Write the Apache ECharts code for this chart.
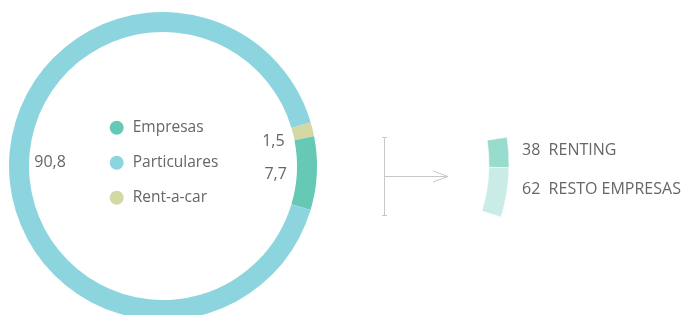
<!DOCTYPE html>
<html>
<head>
<meta charset="utf-8">
<script src="https://cdn.jsdelivr.net/npm/echarts@6/dist/echarts.min.js"></script>
<style>
  html, body { margin: 0; padding: 0; background: #fff; }
  #chart { width: 681px; height: 315px; }
</style>
</head>
<body>
<div id="chart"></div>
<script>
// main ring (drawing order, clockwise from the top of the green part)
const ringNames = ['Rent-a-car', 'Empresas', 'Particulares']
const ringValues = [1.5, 7.7, 90.8]
const ringColors = ['#d4d9a4', '#66c9b6', '#8dd5de']
const legendOrder = ['Empresas', 'Particulares', 'Rent-a-car']

// breakdown of Empresas
const subNames = ['RENTING', 'RESTO EMPRESAS']
const subValues = [38, 62]
const subColors = ['#98dcce', '#c9ece6']

const textColor = '#666'
const fontFamily = '"Open Sans", "DejaVu Sans", sans-serif'

let chart = echarts.init(document.getElementById('chart'))

let ringData = ringNames.map((n, i) => ({ name: n, value: ringValues[i], itemStyle: { color: ringColors[i] } }))
let subData = subNames.map((n, i) => ({ name: n, value: subValues[i], itemStyle: { color: subColors[i] } }))

let option = {
    animation: false,
    legend: [
        {
            data: legendOrder,
            orient: 'vertical',
            left: 104.7,
            top: 114.7,
            icon: 'circle',
            itemWidth: 14,
            itemHeight: 14,
            itemGap: 19,
            selectedMode: false,
            textStyle: { color: textColor, fontSize: 15.5, fontFamily: fontFamily, lineHeight: 16, padding: [0, 0, 0, 4] }
        },
        {
            data: subNames,
            orient: 'vertical',
            left: 512,
            top: 137.7,
            icon: 'none',
            itemWidth: 0,
            itemHeight: 14,
            itemGap: 22.3,
            selectedMode: false,
            formatter: function (name) {
                return subValues[subNames.indexOf(name)] + '  ' + name
            },
            textStyle: { color: textColor, fontSize: 16, fontFamily: fontFamily, lineHeight: 16 }
        }
    ],
    series: [
        {
            type: 'pie',
            center: [163, 166],
            radius: [134, 154],
            startAngle: 16.5,
            clockwise: true,
            silent: true,
            label: { show: false },
            labelLine: { show: false },
            itemStyle: { borderWidth: 0 },
            data: ringData
        },
        {
            // invisible copy that only carries the value labels inside the hole
            type: 'pie',
            center: [163, 166],
            radius: [86, 134],
            startAngle: 15,
            clockwise: true,
            silent: true,
            avoidLabelOverlap: false,
            itemStyle: { color: 'rgba(0,0,0,0)', borderWidth: 0 },
            label: {
                show: true,
                position: 'inside',
                color: textColor,
                fontSize: 16,
                fontFamily: fontFamily,
                formatter: function (p) { return String(p.value).replace('.', ',') }
            },
            labelLine: { show: false },
            data: ringNames.map((n, i) => ({ name: n, value: ringValues[i] }))
        },
        {
            type: 'pie',
            center: [328, 164],
            radius: [161, 181],
            startAngle: 8.5,
            endAngle: -17,
            clockwise: true,
            silent: true,
            label: { show: false },
            labelLine: { show: false },
            itemStyle: { borderWidth: 1, borderColor: 'rgba(255,255,255,0.5)' },
            data: subData
        }
    ],
    graphic: [
        { type: 'line', shape: { x1: 384.5, y1: 137.5, x2: 384.5, y2: 215.5 }, style: { stroke: '#c8c8c8', lineWidth: 1 } },
        { type: 'line', shape: { x1: 382, y1: 137.5, x2: 387, y2: 137.5 }, style: { stroke: '#c8c8c8', lineWidth: 1 } },
        { type: 'line', shape: { x1: 382, y1: 215.5, x2: 387, y2: 215.5 }, style: { stroke: '#c8c8c8', lineWidth: 1 } },
        { type: 'line', shape: { x1: 384.5, y1: 176.5, x2: 448, y2: 176.5 }, style: { stroke: '#c8c8c8', lineWidth: 1 } },
        { type: 'polyline', shape: { points: [[433, 171], [448, 176.5], [433, 182]] }, style: { stroke: '#c8c8c8', lineWidth: 1, fill: null } }
    ]
}
chart.setOption(option)
</script>
</body>
</html>
